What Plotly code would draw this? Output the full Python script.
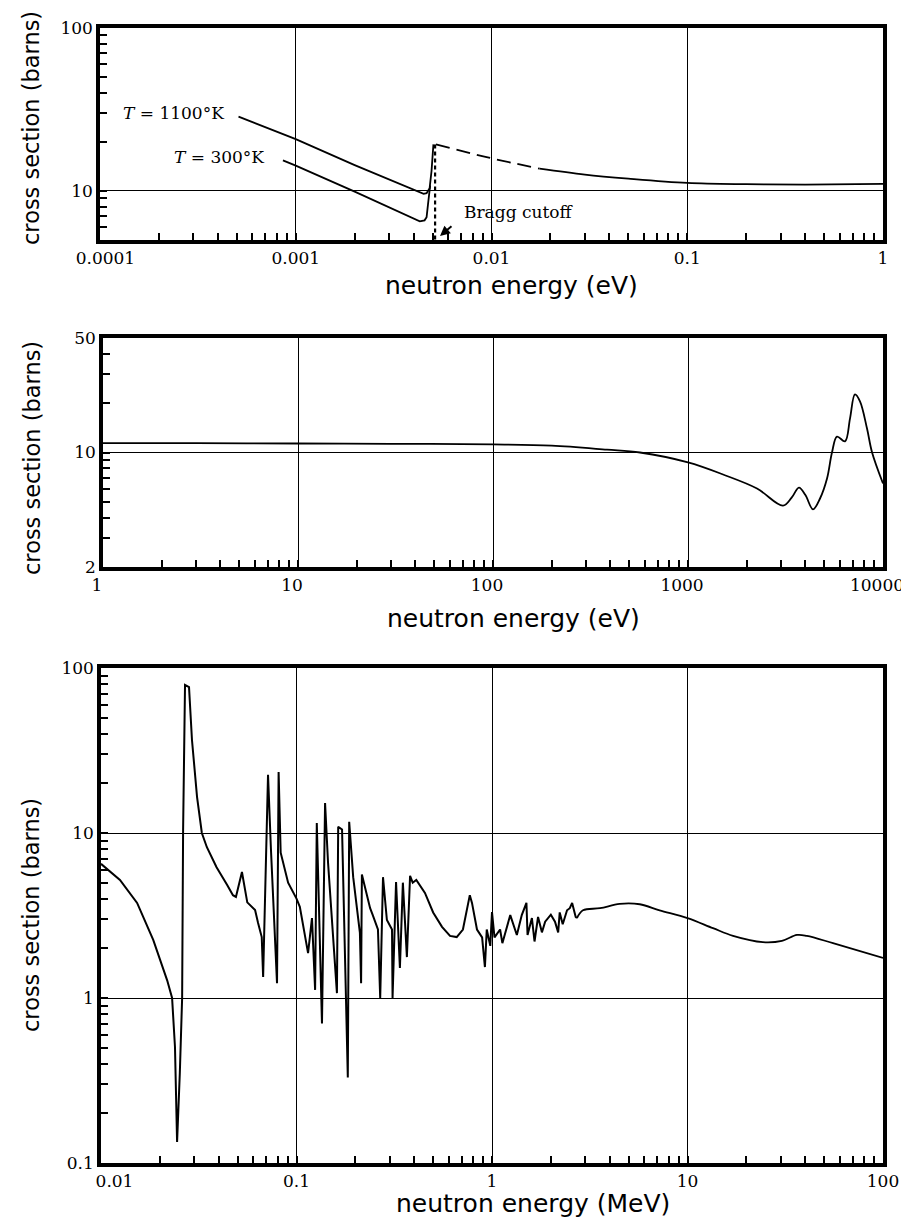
import math
import plotly.graph_objects as go

# ---------------- data ----------------
# Top panel (eV): thermal region
e_1100 = [5.1e-4, 1.0e-3, 2.0e-3, 4.3e-3, 4.5e-3, 4.66e-3, 4.83e-3, 4.94e-3, 5.05e-3]
s_1100 = [28.6, 20.8, 14.4, 9.8, 9.6, 9.7, 10.4, 13.3, 19.3]

e_300 = [8.6e-4, 1.0e-3, 2.0e-3, 4.3e-3, 4.55e-3, 4.66e-3, 4.74e-3, 4.86e-3]
s_300 = [15.4, 14.3, 9.9, 6.5, 6.6, 6.9, 8.3, 10.8]

bragg_cutoff_ev = 5.15e-3
bragg_peak = 19.3
bragg_floor = 5.0

e_dash = [5.2e-3, 9.7e-3, 1.76e-2]
s_dash = [19.3, 16.0, 13.7]

e_tail = [1.76e-2, 0.03, 0.05, 0.1, 0.2, 0.4, 1.0]
s_tail = [13.7, 12.6, 11.9, 11.2, 11.0, 10.95, 11.05]

# Middle panel (eV): epithermal
mid_e = [1, 3, 10, 30, 100, 200, 384, 567, 1000, 1513, 2259, 3070, 3400, 3707,
         4000, 4375, 4753, 5164, 5475, 5810, 6385, 6772, 7180, 7620, 8280, 8790, 10000]
mid_s = [11.4, 11.4, 11.35, 11.3, 11.2, 11.0, 10.4, 10.0, 8.7, 7.34, 6.03, 4.74, 5.3, 6.1,
         5.5, 4.5, 5.24, 6.94, 10.0, 12.5, 11.7, 16.1, 22.6, 20.5, 14.0, 10.0, 6.47]

# Bottom panel (MeV): fast region, resonances
fast_e = [0.0100, 0.0125, 0.0153, 0.0185, 0.0218, 0.0231, 0.0239, 0.0245, 0.0253, 0.0260,
          0.0263, 0.0269, 0.0282, 0.0292, 0.0310, 0.0328, 0.0348, 0.0390, 0.0442, 0.0473,
          0.0490, 0.0526, 0.0560, 0.0614, 0.0636, 0.0664, 0.0675, 0.0715, 0.0740, 0.0795,
          0.0810, 0.0830, 0.0906, 0.1000, 0.1040, 0.1146, 0.1200, 0.1245, 0.1270, 0.1350,
          0.1400, 0.1450, 0.1610, 0.1634, 0.1710, 0.1830, 0.1860, 0.1950, 0.2110, 0.2140,
          0.2160, 0.2380, 0.2450, 0.2610, 0.2680, 0.2770, 0.2900, 0.3080, 0.3100, 0.3230,
          0.3380, 0.3500, 0.3670, 0.3810, 0.3930, 0.4100, 0.4540, 0.5000, 0.5550, 0.6100,
          0.6600, 0.7100, 0.7700, 0.7900, 0.8380, 0.8900, 0.9200, 0.9400, 0.9800, 1.0000,
          1.0300, 1.1000, 1.1300, 1.2400, 1.3400, 1.4200, 1.5000, 1.5200, 1.6000, 1.6500,
          1.7200, 1.8000, 1.8700, 2.0000, 2.1000, 2.1800, 2.2200, 2.3000, 2.4200, 2.5000,
          2.5700, 2.6800, 2.7200]
fast_s = [6.5, 5.19, 3.77, 2.25, 1.28, 1.0, 0.505, 0.134, 0.35, 1.0,
          10.4, 78.9, 76.5, 36.6, 16.5, 10.0, 8.2, 6.2, 4.84, 4.2,
          4.1, 5.8, 3.8, 3.41, 2.85, 2.34, 1.34, 22.5, 8.0, 1.23,
          23.4, 7.6, 5.0, 4.0, 3.57, 1.87, 3.05, 1.12, 11.5, 0.70,
          15.2, 6.6, 1.07, 10.9, 10.5, 0.33, 11.7, 5.4, 2.48, 1.23,
          5.6, 3.5, 3.2, 2.6, 1.0, 5.4, 2.97, 2.6, 1.0, 5.05,
          1.52, 5.0, 1.77, 5.5, 5.0, 5.2, 4.33, 3.3, 2.7, 2.38,
          2.34, 2.6, 4.2, 3.77, 2.6, 2.33, 1.54, 2.6, 2.07, 3.32,
          2.33, 2.6, 2.15, 3.18, 2.41, 3.18, 3.77, 2.41, 3.05, 2.2,
          3.1, 2.5, 2.9, 3.2, 2.9, 2.5, 3.3, 2.8, 3.4, 3.5,
          3.77, 3.1, 3.05]

fast_tail_e = [2.72, 2.92, 3.57, 4.5, 5.7, 7.2, 10.0, 13.5, 17.1, 24.3, 30.4, 36.3, 40.8, 55.5, 100.0]
fast_tail_s = [3.05, 3.4, 3.5, 3.72, 3.7, 3.4, 3.05, 2.65, 2.38, 2.18, 2.22, 2.41, 2.38, 2.15, 1.75]

NB = "\u00a0"
top_xticks = [1e-4, 1e-3, 1e-2, 1e-1, 1]
top_xtext = [NB * 2 + "0.0001", "0.001", "0.01", "0.1", "1"]
top_yticks = [10, 100]
top_ytext = ["10", "100"]
mid_xticks = [1, 10, 100, 1000, 10000]
mid_xtext = ["1", "10", "100", "1000", "10000"]
mid_yticks = [2, 10, 50]
mid_ytext = ["2", "10", "50"]
bot_xticks = [0.01, 0.1, 1, 10, 100]
bot_xtext = [NB * 5 + "0.01", "0.1", "1", "10", "100"]
bot_yticks = [0.1, 1, 10, 100]
bot_ytext = ["0.1", "1", "10", "100"]

# ---------------- layout helpers ----------------
OFF = 8                      # default page body margin
W, H = 909 - OFF, 1223 - OFF  # figure size


def fx(px):
    return (px - OFF) / W


def fy(py):
    return 1 - (py - OFF) / H


def axis(rng, tv, tt, dom, anchor, shift=0):
    return dict(
        type="log", range=[math.log10(rng[0]), math.log10(rng[1])], domain=dom, anchor=anchor,
        automargin=False, ticklabeloverflow="allow", ticklabelshift=shift,
        tickmode="array", tickvals=tv, ticktext=tt,
        ticks="inside", ticklen=7, tickwidth=1.5, tickcolor="black",
        showline=True, linewidth=3.5, linecolor="black", mirror=True,
        showgrid=True, gridcolor="black", gridwidth=1.4, zeroline=False,
        tickfont=dict(family="DejaVu Serif", size=17, color="black"),
        minor=dict(ticks="inside", ticklen=7, tickwidth=1.5, tickcolor="black",
                   dtick="D1", showgrid=False),
    )


LINE = dict(color="black", width=1.8)

fig = go.Figure()
# top
fig.add_trace(go.Scatter(x=e_1100, y=s_1100, mode="lines", line=LINE, xaxis="x", yaxis="y"))
fig.add_trace(go.Scatter(x=e_300, y=s_300, mode="lines", line=LINE, xaxis="x", yaxis="y"))
fig.add_trace(go.Scatter(x=[bragg_cutoff_ev, bragg_cutoff_ev], y=[bragg_peak, bragg_floor], mode="lines",
                         line=dict(color="black", width=2.2, dash="4px,3px"), xaxis="x", yaxis="y"))
fig.add_trace(go.Scatter(x=e_dash, y=s_dash, mode="lines",
                         line=dict(color="black", width=1.8, dash="14px,7px"),
                         line_shape="spline", xaxis="x", yaxis="y"))
fig.add_trace(go.Scatter(x=e_tail, y=s_tail, mode="lines", line=LINE, line_shape="spline",
                         xaxis="x", yaxis="y"))
# middle
fig.add_trace(go.Scatter(x=mid_e, y=mid_s, mode="lines", line=LINE, line_shape="spline",
                         xaxis="x2", yaxis="y2"))
# bottom
fig.add_trace(go.Scatter(x=fast_e, y=fast_s, mode="lines", line=dict(color="black", width=2),
                         xaxis="x3", yaxis="y3"))
fig.add_trace(go.Scatter(x=fast_tail_e, y=fast_tail_s, mode="lines", line=LINE, line_shape="spline",
                         xaxis="x3", yaxis="y3"))

fig.update_layout(
    template="none",
    width=W, height=H, margin=dict(l=0, r=0, t=0, b=0, pad=0, autoexpand=False),
    paper_bgcolor="white", plot_bgcolor="white", showlegend=False,
    xaxis=axis((1e-4, 1), top_xticks, top_xtext, [fx(100), fx(883)], "y"),
    yaxis=axis((5, 100), top_yticks, top_ytext, [fy(240), fy(28)], "x"),
    xaxis2=axis((1, 10000), mid_xticks, mid_xtext, [fx(103), fx(883)], "y2", shift=-6),
    yaxis2=axis((2, 50), mid_yticks, mid_ytext, [fy(567), fy(338)], "x2"),
    xaxis3=axis((0.01, 100), bot_xticks, bot_xtext, [fx(101), fx(883)], "y3"),
    yaxis3=axis((0.1, 100), bot_yticks, bot_ytext, [fy(1163), fy(668)], "x3"),
)

ann = []
title_font = dict(family="DejaVu Sans", size=25, color="black")
ytitle_font = dict(family="DejaVu Sans", size=22.5, color="black")
for (xc, yc) in [(31, 128), (32, 458), (31, 915)]:
    ann.append(dict(text="cross section (barns)", x=fx(xc), y=fy(yc), xref="paper", yref="paper",
                    showarrow=False, textangle=-90, font=ytitle_font, xanchor="center", yanchor="middle"))
ann.append(dict(text="neutron energy (eV)", x=fx(511), y=fy(286), xref="paper", yref="paper",
                showarrow=False, font=title_font, xanchor="center", yanchor="middle"))
ann.append(dict(text="neutron energy (eV)", x=fx(513), y=fy(618), xref="paper", yref="paper",
                showarrow=False, font=title_font, xanchor="center", yanchor="middle"))
ann.append(dict(text="neutron energy (MeV)", x=fx(533), y=fy(1203), xref="paper", yref="paper",
                showarrow=False, font=title_font, xanchor="center", yanchor="middle"))
lab_font = dict(family="DejaVu Serif", size=17, color="black")
ann.append(dict(text="<i>T</i> = 1100°K", x=fx(173), y=fy(113), xref="paper", yref="paper",
                showarrow=False, font=lab_font, xanchor="center", yanchor="middle"))
ann.append(dict(text="<i>T</i> = 300°K", x=fx(219), y=fy(157), xref="paper", yref="paper",
                showarrow=False, font=lab_font, xanchor="center", yanchor="middle"))
ann.append(dict(text="Bragg cutoff", x=fx(518), y=fy(212), xref="paper", yref="paper",
                showarrow=False, font=lab_font, xanchor="center", yanchor="middle"))
ann.append(dict(text="", x=fx(440), y=fy(236), xref="paper", yref="paper",
                showarrow=True, ax=13, ay=-11, arrowhead=2, arrowsize=1, arrowwidth=2,
                arrowcolor="black"))
fig.update_layout(annotations=ann)

fig.write_html("out.html")
